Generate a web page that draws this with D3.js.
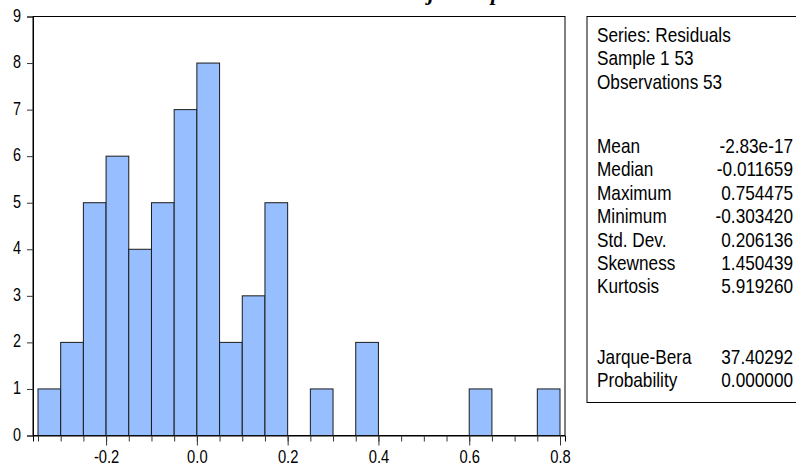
<!DOCTYPE html>
<html>
<head>
<meta charset="utf-8">
<script src="https://cdn.jsdelivr.net/npm/d3@7"></script>
<style>
  html, body { margin: 0; padding: 0; background: #fff; }
  svg { display: block; }
</style>
</head>
<body>
<svg id="chart" width="796" height="468"></svg>
<script>
// ---- data ----
const binLower = [-0.35, -0.30, -0.25, -0.20, -0.15, -0.10, -0.05, 0.00, 0.05, 0.10, 0.15, 0.20,
                  0.25, 0.30, 0.35, 0.40, 0.45, 0.50, 0.55, 0.60, 0.65, 0.70, 0.75];
const binUpper = [-0.30, -0.25, -0.20, -0.15, -0.10, -0.05, 0.00, 0.05, 0.10, 0.15, 0.20, 0.25,
                  0.30, 0.35, 0.40, 0.45, 0.50, 0.55, 0.60, 0.65, 0.70, 0.75, 0.80];
const counts   = [1, 2, 5, 6, 4, 5, 7, 8, 2, 3, 5, 0, 1, 0, 2, 0, 0, 0, 0, 1, 0, 0, 1];
const xMajorTicks = [-0.2, 0.0, 0.2, 0.4, 0.6, 0.8];
const xMajorLabels = ["-0.2", "0.0", "0.2", "0.4", "0.6", "0.8"];
const yTicks = [0, 1, 2, 3, 4, 5, 6, 7, 8, 9];
const headerLines = ["Series: Residuals", "Sample 1 53", "Observations 53"];
const statLabels = ["Mean", "Median", "Maximum", "Minimum", "Std. Dev.", "Skewness", "Kurtosis"];
const statValues = ["-2.83e-17", "-0.011659", "0.754475", "-0.303420", "0.206136", "1.450439", "5.919260"];
const testLabels = ["Jarque-Bera", "Probability"];
const testValues = ["37.40292", "0.000000"];

// ---- layout ----
const svg = d3.select("#chart");
const L = 33, R = 565, T = 16.5, B = 435.5;
const x = d3.scaleLinear().domain([-0.361, 0.811]).range([L, R]);
const y = d3.scaleLinear().domain([0, 9]).range([B, T]);
const fontSans = "'Liberation Sans', Arial, sans-serif";

// partially visible caption at the very top (cut off in the original)
svg.append("text").attr("x", 428).attr("y", 0)
  .style("font-family", "'Liberation Serif', serif").style("font-style", "italic")
  .style("font-weight", "bold").style("font-size", "22px").text("j");
svg.append("text").attr("x", 491).attr("y", 0)
  .style("font-family", "'Liberation Serif', serif").style("font-style", "italic")
  .style("font-weight", "bold").style("font-size", "22px").text("p");

// frame
svg.append("rect").attr("x", L).attr("y", T).attr("width", R - L).attr("height", B - T)
  .attr("fill", "none").attr("stroke", "#000").attr("stroke-width", 1);

// bars
const bars = binLower.map((lo, i) => ({lo, hi: binUpper[i], n: counts[i]})).filter(d => d.n > 0);
svg.append("g").selectAll("rect").data(bars).join("rect")
  .attr("x", d => x(d.lo))
  .attr("y", d => y(d.n))
  .attr("width", d => x(d.hi) - x(d.lo))
  .attr("height", d => y(0) - y(d.n))
  .attr("fill", "#97BFFF")
  .attr("stroke", "#1a1a1a")
  .attr("stroke-width", 1);

// x axis minor ticks (bin edges)
const xEdges = binLower.concat([binUpper[binUpper.length - 1]]);
const xMinor = svg.append("g").attr("transform", `translate(0,${B})`)
  .call(d3.axisBottom(x).tickValues(xEdges).tickSize(6).tickFormat(""));
xMinor.select(".domain").attr("stroke", "#000");
xMinor.selectAll(".tick line").attr("stroke", "#333");

// x axis major ticks + labels
const xMajor = svg.append("g").attr("transform", `translate(0,${B})`)
  .call(d3.axisBottom(x).tickValues(xMajorTicks).tickSize(10)
    .tickFormat((d, i) => xMajorLabels[i]));
xMajor.select(".domain").remove();
xMajor.selectAll(".tick line").attr("stroke", "#333");
xMajor.selectAll(".tick text")
  .attr("y", 27.5).attr("dy", null)
  .attr("transform", "scale(0.82,1)")
  .attr("fill", "#000")
  .style("font-family", fontSans).style("font-size", "18px");

// y axis
const yAx = svg.append("g").attr("transform", `translate(${L},0)`)
  .call(d3.axisLeft(y).tickValues(yTicks).tickSize(6).tickFormat(d3.format("d")));
yAx.select(".domain").attr("stroke", "#000");
yAx.selectAll(".tick line").attr("stroke", "#333");
yAx.selectAll(".tick text")
  .attr("x", -12 / 0.8).attr("y", 4.5).attr("dy", null)
  .attr("transform", "scale(0.8,1)")
  .attr("fill", "#000")
  .style("font-family", fontSans).style("font-size", "18px");

// stats box
const boxL = 587, boxT = 16.5, boxB = 402.5;
svg.append("rect").attr("x", boxL).attr("y", boxT).attr("width", 796 - boxL + 10).attr("height", boxB - boxT)
  .attr("fill", "#fff").attr("stroke", "#000").attr("stroke-width", 1);

const sx = 0.86;
function txt(xp, yp, s, anchor) {
  svg.append("text")
    .attr("transform", `translate(${xp},${yp}) scale(${sx},1)`)
    .attr("text-anchor", anchor || "start")
    .style("font-family", fontSans).style("font-size", "20px")
    .attr("fill", "#000")
    .text(s);
}
const labX = 597, valX = 793, lh = 23.4;
headerLines.forEach((s, i) => txt(labX, 42 + i * lh, s));
statLabels.forEach((s, i) => {
  txt(labX, 153 + i * lh, s);
  txt(valX, 153 + i * lh, statValues[i], "end");
});
testLabels.forEach((s, i) => {
  txt(labX, 364 + i * lh, s);
  txt(valX, 364 + i * lh, testValues[i], "end");
});
</script>
</body>
</html>
